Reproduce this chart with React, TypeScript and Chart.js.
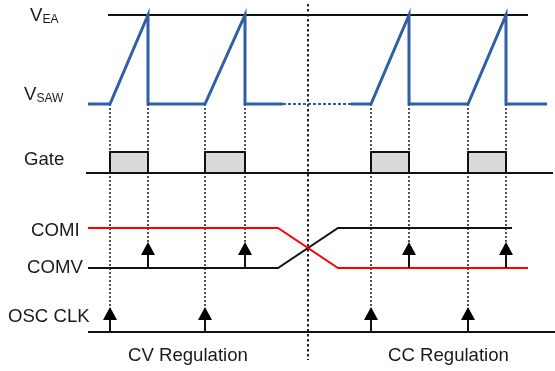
import React, { useEffect, useRef } from "react";
import { Chart, registerables } from "chart.js";
Chart.register(...registerables);

const W = 555;
const H = 371;

// ---- data (time axis units, signal levels) ----
const rampStart = [110, 205, 371, 468];
const rampEnd = [148, 245, 409, 506];
const sawSolidSpans = [
  [88, 283],
  [351, 547],
];
const sawDottedSpan = [283, 351];
const veaSpan = [108, 528];
const gateSpan = [86, 553];
const clkSpan = [88, 555];
const comiPts = [
  [88, 228],
  [278, 228],
  [338, 268],
  [528, 268],
];
const comvPts = [
  [88, 268],
  [278, 268],
  [338, 228],
  [512, 228],
];
const dividerT = 308;
const dividerSpan = [4, 360];

const LV = {
  vea: 15,
  saw: 104,
  gateHigh: 152,
  gateLow: 173,
  comTip: 242,
  comBase: 268,
  clk: 332,
  clkTip: 307,
};

const labels = [
  { text: "V", sub: "EA", x: 30, y: 21 },
  { text: "V", sub: "SAW", x: 24, y: 100 },
  { text: "Gate", x: 24, y: 164.5 },
  { text: "COMI", x: 31, y: 236 },
  { text: "COMV", x: 27, y: 273 },
  { text: "OSC CLK", x: 8, y: 322 },
  { text: "CV Regulation", x: 128, y: 361 },
  { text: "CC Regulation", x: 388, y: 361 },
];

const BLUE = "#2f5fa8";
const FONT = "Liberation Sans, Arial, Helvetica, sans-serif";

type P = { x: number; y: number | null };

function sawPoints(t0: number, t1: number): P[] {
  const pts: P[] = [{ x: t0, y: LV.saw }];
  rampStart.forEach((s, i) => {
    const e = rampEnd[i];
    if (s >= t0 && e <= t1) {
      pts.push({ x: s, y: LV.saw }, { x: e, y: LV.vea }, { x: e, y: LV.saw });
    }
  });
  pts.push({ x: t1, y: LV.saw });
  return pts;
}

function App() {
  const ref = useRef<HTMLCanvasElement | null>(null);
  useEffect(() => {
    document.body.style.margin = "0";
    const canvas = ref.current!;
    const datasets: any[] = [];
    const base = {
      showLine: true,
      pointRadius: 0,
      pointHoverRadius: 0,
      fill: false,
      tension: 0,
      clip: false as any,
    };
    // dotted verticals
    const dots: P[] = [];
    rampStart.forEach((t) => {
      dots.push({ x: t, y: LV.saw }, { x: t, y: LV.clkTip }, { x: t, y: null });
    });
    rampEnd.forEach((t) => {
      dots.push({ x: t, y: LV.saw }, { x: t, y: LV.comTip }, { x: t, y: null });
    });
    datasets.push({
      ...base,
      data: dots,
      borderColor: "#1a1a1a",
      borderWidth: 1.5,
      borderDash: [2, 2],
      spanGaps: false,
      order: 10,
    });
    // divider
    datasets.push({
      ...base,
      data: [
        { x: dividerT, y: dividerSpan[0] },
        { x: dividerT, y: dividerSpan[1] },
      ],
      borderColor: "#222",
      borderWidth: 2,
      borderDash: [2.5, 2.5],
      order: 9,
    });
    // gate pulses
    rampStart.forEach((s, i) => {
      const e = rampEnd[i];
      datasets.push({
        ...base,
        data: [
          { x: s, y: LV.gateLow },
          { x: s, y: LV.gateHigh },
          { x: e, y: LV.gateHigh },
          { x: e, y: LV.gateLow },
        ],
        fill: { value: LV.gateLow },
        backgroundColor: "#d9d9d9",
        borderColor: "#111",
        borderWidth: 2,
        order: 5,
      });
    });
    // horizontal references
    datasets.push({
      ...base,
      data: [
        { x: veaSpan[0], y: LV.vea },
        { x: veaSpan[1], y: LV.vea },
      ],
      borderColor: "#111",
      borderWidth: 2,
      order: 4,
    });
    datasets.push({
      ...base,
      data: [
        { x: gateSpan[0], y: LV.gateLow },
        { x: gateSpan[1], y: LV.gateLow },
      ],
      borderColor: "#111",
      borderWidth: 2,
      order: 4,
    });
    datasets.push({
      ...base,
      data: [
        { x: clkSpan[0], y: LV.clk },
        { x: clkSpan[1], y: LV.clk },
      ],
      borderColor: "#111",
      borderWidth: 2,
      order: 4,
    });
    // saw
    sawSolidSpans.forEach(([a, b]) => {
      datasets.push({
        ...base,
        data: sawPoints(a, b),
        borderColor: BLUE,
        borderWidth: 3,
        borderJoinStyle: "miter",
        order: 1,
      });
    });
    datasets.push({
      ...base,
      data: [
        { x: sawDottedSpan[0], y: LV.saw },
        { x: sawDottedSpan[1], y: LV.saw },
      ],
      borderColor: BLUE,
      borderWidth: 2,
      borderDash: [3, 2],
      order: 1,
    });
    // COMI / COMV
    datasets.push({
      ...base,
      data: comiPts.map(([x, y]) => ({ x, y })),
      borderColor: "#ff0000",
      borderWidth: 2,
      order: 2,
    });
    datasets.push({
      ...base,
      data: comvPts.map(([x, y]) => ({ x, y })),
      borderColor: "#111",
      borderWidth: 2,
      order: 2,
    });
    // arrow stems
    const stems: P[] = [];
    rampStart.forEach((t) => {
      stems.push({ x: t, y: LV.clk }, { x: t, y: LV.clkTip + 10 }, { x: t, y: null });
    });
    rampEnd.forEach((t) => {
      stems.push({ x: t, y: LV.comBase }, { x: t, y: LV.comTip + 10 }, { x: t, y: null });
    });
    datasets.push({
      ...base,
      data: stems,
      borderColor: "#111",
      borderWidth: 2,
      spanGaps: false,
      order: 0,
    });

    const overlay = {
      id: "overlay",
      afterDatasetsDraw(chart: any) {
        const ctx = chart.ctx as CanvasRenderingContext2D;
        const xs = chart.scales.x;
        const ys = chart.scales.y;
        ctx.save();
        ctx.fillStyle = "#000";
        const head = (t: number, tip: number) => {
          const px = xs.getPixelForValue(t);
          const py = ys.getPixelForValue(tip);
          ctx.beginPath();
          ctx.moveTo(px, py);
          ctx.lineTo(px + 7, py + 13);
          ctx.lineTo(px - 7, py + 13);
          ctx.closePath();
          ctx.fill();
        };
        rampStart.forEach((t) => head(t, LV.clkTip));
        rampEnd.forEach((t) => head(t, LV.comTip));
        // labels
        ctx.fillStyle = "#1a1a1a";
        ctx.textBaseline = "alphabetic";
        ctx.textAlign = "left";
        labels.forEach((l: any) => {
          const px = xs.getPixelForValue(l.x);
          const py = ys.getPixelForValue(l.y);
          ctx.font = `18.6px ${FONT}`;
          ctx.fillText(l.text, px, py);
          if (l.sub) {
            const w = ctx.measureText(l.text).width;
            ctx.font = `12px ${FONT}`;
            ctx.fillText(l.sub, px + w, py + 2);
          }
        });
        ctx.restore();
      },
    };

    const chart = new Chart(canvas, {
      type: "scatter",
      data: { datasets },
      options: {
        animation: false,
        responsive: false,
        devicePixelRatio: 1,
        layout: { padding: 0 },
        events: [],
        plugins: {
          legend: { display: false },
          tooltip: { enabled: false },
        },
        scales: {
          x: { type: "linear", min: 0, max: W, display: false },
          y: { type: "linear", min: 0, max: H, reverse: true, display: false },
        },
      },
      plugins: [overlay],
    } as any);
    return () => chart.destroy();
  }, []);
  return (
    <canvas
      ref={ref}
      width={W}
      height={H}
      style={{ display: "block", width: W, height: H }}
    />
  );
}

export default App;
